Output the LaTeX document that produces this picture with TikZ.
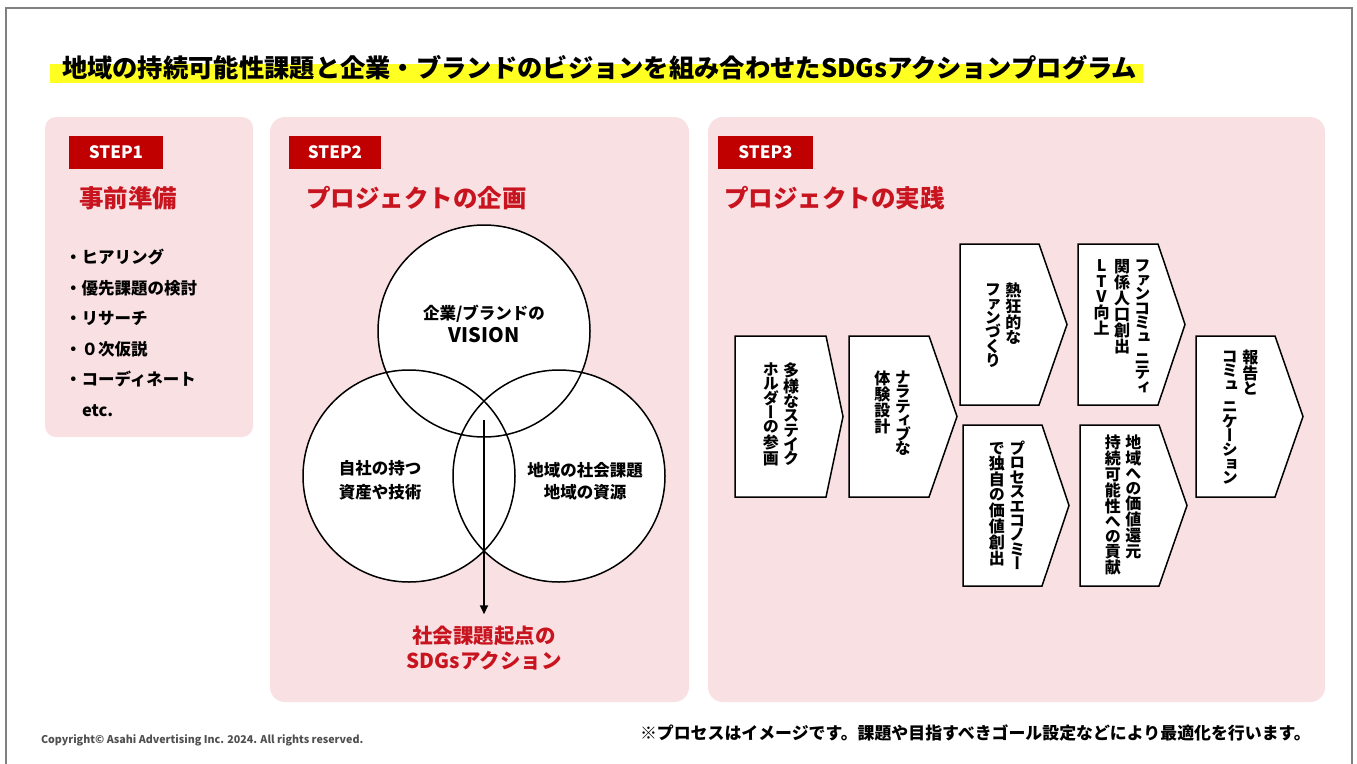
\documentclass[tikz,border=0pt]{standalone}
\usepackage{fontspec}
\setmainfont{Noto Sans CJK JP}
\newfontfamily\vjp[RawFeature={+vert}]{Noto Sans CJK JP}
\usetikzlibrary{arrows.meta}
\definecolor{pinkbg}{HTML}{F9E0E3}
\definecolor{stepred}{HTML}{C00000}
\definecolor{hdred}{HTML}{C8141E}
\definecolor{hlyellow}{HTML}{FFFF22}
\definecolor{framegray}{HTML}{808080}
\definecolor{copygray}{HTML}{505050}
\makeatletter
\def\vEnd{E}\def\vg{G}
\newcommand\vcell[3]{\vbox to #1{\kern#2\hbox to 1em{\hss\smash{#3}\hss}\vss}}
\def\vcol#1{\vtop{\offinterlineskip\hbox{}\vcol@#1\vEnd}}
\def\vcol@#1{%
 \ifx#1\vEnd\else
  \ifx#1\vg\kern.5em\else
   \in@{#1}{ァィゥェォャュョッぁぃぅぇぉゃゅょっ}%
   \ifin@ \vcell{.85em}{.84em}{#1}%
   \else
    \ifnum`#1<128 \vcell{.95em}{.84em}{#1}%
    \else
     \ifnum`#1>"3040 \ifnum`#1<"3100 \vcell{.9em}{.83em}{#1}\else\vcell{1em}{.88em}{#1}\fi
     \else\vcell{1em}{.88em}{#1}\fi
    \fi
   \fi
  \fi
  \expandafter\vcol@
 \fi}
\makeatother
\newcommand\vsp{\hskip.28em}
\tikzset{
  fs/.style={font=\bfseries\fontsize{#1}{#1}\selectfont, text height={#1*0.88pt}, text depth={#1*0.12pt}},
  stepbox/.style={fill=stepred, text=white, font=\bfseries\fontsize{17}{17}\selectfont, minimum height=33pt},
  panel/.style={fill=pinkbg, rounded corners=15pt},
  chev/.style={draw=black, fill=white, line width=1.5pt, line join=miter},
  vtxt/.style={font=\vjp\bfseries\fontsize{16}{16}\selectfont},
  venn/.style={circle, draw=black, line width=1.5pt, minimum size=212pt},
}
\begin{document}
\begin{tikzpicture}[x=1pt,y=-1pt, every node/.style={inner sep=0pt, outer sep=0pt}]
\useasboundingbox (0,0) rectangle (1357,763);
\fill[white] (0,0) rectangle (1357,763);
\draw[framegray, line width=2pt] (6,770) -- (6,8) -- (1352,8) -- (1352,770);

% title
\fill[hlyellow] (50,64) rectangle (1143,83);
\node[fs=25.3, anchor=west] (title) at (62,68) {地域の持続可能性課題と企業・ブランドのビジョンを組み合わせたSDGsアクションプログラム};

% panels
\fill[panel, rounded corners=11pt] (45,117) rectangle (253,437);
\fill[panel] (270,117) rectangle (689,702);
\fill[panel] (708,117) rectangle (1325,702);

% step labels
\node[stepbox, minimum width=94pt] (s1) at (116,152.5) {STEP1};
\node[stepbox, minimum width=92pt] (s2) at (335,152.5) {STEP2};
\node[stepbox, minimum width=95pt] (s3) at (765.5,152.5) {STEP3};

\node[fs=24.5, text=hdred, anchor=west] (h1) at (79,198) {事前準備};
\node[fs=24.5, text=hdred, anchor=west] (h2) at (306,198) {プロジェクトの企画};
\node[fs=24.5, text=hdred, anchor=west] (h3) at (724,198) {プロジェクトの実践};

% step1 list
\node[fs=16.5, anchor=west] (l1) at (65,257) {・ヒアリング};
\node[fs=16.5, anchor=west] (l2) at (65,288) {・優先課題の検討};
\node[fs=16.5, anchor=west] (l3) at (65,318) {・リサーチ};
\node[fs=16.5, anchor=west] (l4) at (65,349) {・０次仮説};
\node[fs=16.5, anchor=west] (l5) at (65,379) {・コーディネート};
\node[fs=16.5, anchor=west] (l6) at (82,410) {etc.};

% venn
\fill[white] (484,331) circle[radius=106pt];
\fill[white] (409,476) circle[radius=106pt];
\fill[white] (559,476) circle[radius=106pt];
\node[venn] (vt) at (484,331) {};
\node[venn] (vl) at (409,476) {};
\node[venn] (vr) at (559,476) {};
\node[fs=16.5] (vt1) at (484,313) {企業/ブランドの};
\node[fs=20] (vt2) at (484,335) {VISION};
\node[fs=16.5] (vl1) at (380,468) {自社の持つ};
\node[fs=16.5] (vl2) at (380,492) {資産や技術};
\node[fs=16.5] (vr1) at (585,470) {地域の社会課題};
\node[fs=16.5] (vr2) at (585,492) {地域の資源};
\node[fs=20.5, text=hdred] (r1) at (484,636) {社会課題起点の};
\node[fs=20.5, text=hdred] (r2) at (484,661) {SDGsアクション};
\coordinate (as) at (484,420);
\draw[line width=1.8pt, -{Triangle[length=9pt,width=8pt]}] (as) -- ([yshift=11.5pt]r1.north);

% step3 chevrons
\draw[chev] (735,336) -- (826,336) -- (843,416.5) -- (826,497) -- (735,497) -- cycle;
\draw[chev] (849,336) -- (929,336) -- (957,416.5) -- (929,497) -- (849,497) -- cycle;
\draw[chev] (960,244) -- (1039,244) -- (1067,324.5) -- (1039,405) -- (960,405) -- cycle;
\draw[chev] (1078,244) -- (1158,244) -- (1185,324.5) -- (1158,405) -- (1078,405) -- cycle;
\draw[chev] (963,425) -- (1042,425) -- (1069,505.5) -- (1042,586) -- (963,586) -- cycle;
\draw[chev] (1080,425) -- (1159,425) -- (1187,505.5) -- (1159,586) -- (1080,586) -- cycle;
\draw[chev] (1196,336) -- (1275,336) -- (1303,416.5) -- (1275,497) -- (1196,497) -- cycle;

\node[vtxt] (ca) at (781,414) {\hbox{\vcol{ホルダーの参画}\vsp\vcol{多様なステイク}}};
\node[vtxt] (cb) at (892.5,413) {\hbox{\vcol{体験設計}\vsp\vcol{ナラティブな}}};
\node[vtxt] (cc) at (1003,325) {\hbox{\vcol{ファンづくり}\vsp\vcol{熱狂的な}}};
\node[vtxt] (cd) at (1122,326) {\hbox{\vcol{LTV向上}\vsp\vcol{関係人口創出}\vsp\vcol{ファンコミュ\vg ニティ}}};
\node[vtxt] (ce) at (1007,506) {\hbox{\vcol{で独自の価値創出}\vsp\vcol{プロセスエコノミー}}};
\node[vtxt] (cf) at (1123,505) {\hbox{\vcol{持続可能性への貢献}\vsp\vcol{地域への価値還元}}};
\node[vtxt] (cg) at (1240,417) {\hbox{\vcol{コミュ\vg ニケーション}\vsp\vcol{報告と}}};

% footer
\node[font=\bfseries\fontsize{10.7}{10.7}\selectfont, text=copygray, anchor=west] (copy) at (41,740) {Copyright© Asahi Advertising Inc. 2024. All rights reserved.};
\node[fs=16.9, anchor=west] (note) at (640,733) {※プロセスはイメージです。課題や目指すべきゴール設定などにより最適化を行います。};
\end{tikzpicture}
\end{document}
